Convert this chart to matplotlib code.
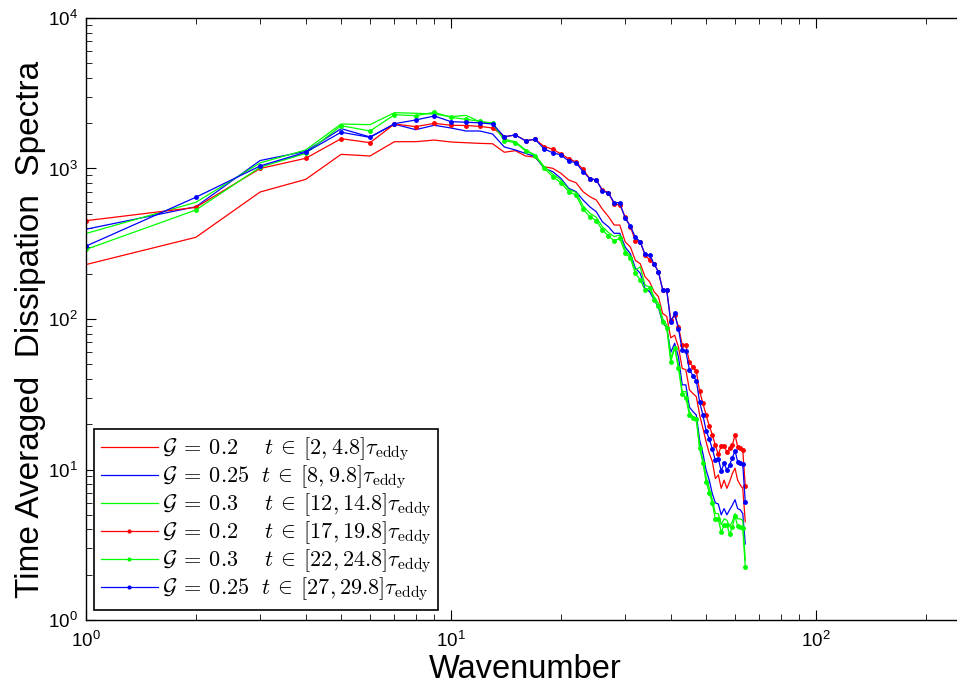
import numpy as np
import matplotlib
matplotlib.use("Agg")
import matplotlib.pyplot as plt
from matplotlib.ticker import LogLocator, NullFormatter

plt.rcParams['font.family'] = ['Liberation Sans', 'DejaVu Sans']
plt.rcParams['mathtext.fontset'] = 'cm'

k = list(range(1, 65))

red_2_48 = [230, 349, 698, 847, 1242, 1211, 1507, 1507, 1545, 1500, 1483, 1469, 1460, 1282,
            1313, 1211, 1188, 1027, 1003, 930, 839, 805, 702, 650, 618, 536, 479, 421, 421, 326,
            301, 245, 233, 191, 177, 152, 141, 109, 104, 75, 78, 65, 47, 46, 33.8, 32, 30.5, 23,
            18.8, 15.3, 12.8, 11.3, 8.7, 9.2, 7.5, 8.5, 7.5, 8.3, 9.4, 10.2, 8.5, 7.9, 7.5, 4.5]

blue_8_98 = [395, 557, 1130, 1300, 1840, 1620, 1970, 1811, 1938, 1858, 1775, 1775, 1695, 1390,
             1328, 1260, 1200, 1003, 953, 860, 740, 702, 618, 557, 516, 442, 410, 371, 371, 301,
             272, 218, 201, 160, 152, 134, 120, 94, 88, 60, 69, 56, 36.5, 36.5, 26, 24.3, 23, 15.7,
             12.8, 9.9, 8.5, 6.9, 6.0, 5.9, 5.0, 5.5, 5.0, 5.4, 5.8, 6.3, 5.5, 5.4, 5.1, 3.2]

green_12_148 = [370, 596, 1090, 1328, 1976, 1955, 2349, 2328, 2300, 2210, 2255, 2040, 2010, 1563,
                1507, 1328, 1230, 1027, 917, 839, 728, 693, 565, 505, 474, 410, 375, 353, 362, 288,
                262, 211, 222, 168, 163, 141, 127, 101, 91, 55, 65, 49.5, 32.9, 33, 24.3, 22.4, 21.8,
                14.2, 11.6, 8.95, 7.5, 6.3, 5.1, 5.1, 4.3, 4.7, 4.6, 4.2, 4.5, 5.1, 4.7, 4.7, 4.6, 2.5]

red_17_198 = [450, 552, 1000, 1169, 1578, 1484, 1976, 1897, 1995, 1938, 1930, 1905, 1858, 1626,
              1670, 1530, 1563, 1400, 1343, 1249, 1164, 1105, 988, 856, 839, 720, 691, 581, 572, 479,
              410, 331, 326, 266, 247, 233, 206, 157, 156, 98, 106, 89, 67, 67, 52, 48, 45, 33,
              27.5, 23, 19.5, 17, 14.5, 12.6, 14.3, 14.3, 13.1, 13.8, 14.5, 17, 14.2, 14.0, 13.5, 7.8]

green_22_248 = [290, 530, 1020, 1260, 1926, 1775, 2276, 2245, 2361, 2188, 2123, 2057, 1995, 1530,
                1484, 1313, 1217, 1003, 883, 805, 702, 667, 536, 479, 450, 390, 356, 331, 344, 276,
                253, 201, 182, 156, 161, 134, 122, 95, 87, 52, 64, 47, 31.8, 30, 23, 21.9, 21.5, 13.8,
                11, 8.3, 7.0, 5.96, 4.67, 4.67, 3.83, 4.28, 4.28, 3.71, 4.17, 4.91, 4.2, 4.17, 4.07, 2.26]

blue_27_298 = [305, 644, 1040, 1282, 1741, 1611, 1985, 2100, 2234, 2047, 2030, 2010, 1976, 1626,
               1670, 1530, 1563, 1348, 1274, 1230, 1122, 1093, 953, 856, 839, 712, 685, 593, 593, 467,
               415, 349, 326, 269, 266, 232, 206, 157, 156, 95, 109, 86, 62, 61, 46, 42, 39, 28,
               23, 18.1, 15.9, 13.7, 11.5, 11.8, 9.8, 11.0, 9.9, 10.7, 12.0, 13.3, 11.3, 11.0, 10.8, 6.1]

labels = [
    r'$\mathcal{G}\:=\:0.2\enspace\:\ \ t\:\in\:[2,4.8]\tau_{\mathrm{eddy}}$',
    r'$\mathcal{G}\:=\:0.25\ \ t\:\in\:[8,9.8]\tau_{\mathrm{eddy}}$',
    r'$\mathcal{G}\:=\:0.3\enspace\:\ \ t\:\in\:[12,14.8]\tau_{\mathrm{eddy}}$',
    r'$\mathcal{G}\:=\:0.2\enspace\:\ \ t\:\in\:[17,19.8]\tau_{\mathrm{eddy}}$',
    r'$\mathcal{G}\:=\:0.3\enspace\:\ \ t\:\in\:[22,24.8]\tau_{\mathrm{eddy}}$',
    r'$\mathcal{G}\:=\:0.25\ \ t\:\in\:[27,29.8]\tau_{\mathrm{eddy}}$',
]

series = [red_2_48, blue_8_98, green_12_148, red_17_198, green_22_248, blue_27_298]
colors = ['#ff0000', '#0000ff', '#00ff00', '#ff0000', '#00ff00', '#0000ff']
markers = [None, None, None, '.', '.', '.']

fig = plt.figure(figsize=(9.57, 6.91), dpi=100)
ax = fig.add_axes([86/957, 71/691, 879/957, 602/691])

for y, c, m, lab in zip(series, colors, markers, labels):
    ax.plot(k, y, color=c, lw=0.9, marker=m, markersize=5, label=lab)

ax.set_xscale('log')
ax.set_yscale('log')
ax.set_xlim(1, 256)
ax.set_ylim(1, 1e4)

ax.xaxis.set_major_locator(LogLocator(base=10, numticks=10))
ax.yaxis.set_major_locator(LogLocator(base=10, numticks=10))
ax.xaxis.set_minor_locator(LogLocator(base=10, subs=np.arange(2, 10), numticks=20))
ax.yaxis.set_minor_locator(LogLocator(base=10, subs=np.arange(2, 10), numticks=20))
ax.xaxis.set_minor_formatter(NullFormatter())
ax.yaxis.set_minor_formatter(NullFormatter())

ax.tick_params(which='both', direction='in', top=True, right=False, labelsize=13.5)
ax.tick_params(which='major', length=7, width=0.8)
ax.tick_params(which='minor', length=4, width=0.6)
ax.tick_params(axis='x', pad=8)
ax.tick_params(axis='y', pad=6)
for s in ax.spines.values():
    s.set_linewidth(1.0)

ax.set_xlabel('Wavenumber', fontsize=23.5, labelpad=2)
ax.set_ylabel('Time Averaged  Dissipation  Spectra', fontsize=24)
ax.yaxis.set_label_coords(-0.0455, 0.483)

leg = ax.legend(loc='lower left', bbox_to_anchor=(0.0094, 0.0166), borderaxespad=0,
                fontsize=16, handlelength=2.55, handletextpad=0.2, labelspacing=0.0,
                borderpad=0.3, fancybox=False, framealpha=1, edgecolor='black')
leg.get_frame().set_linewidth(1.2)
for lh in leg.get_lines():
    lh.set_markersize(4)

fig.savefig('out.png', dpi=100)
